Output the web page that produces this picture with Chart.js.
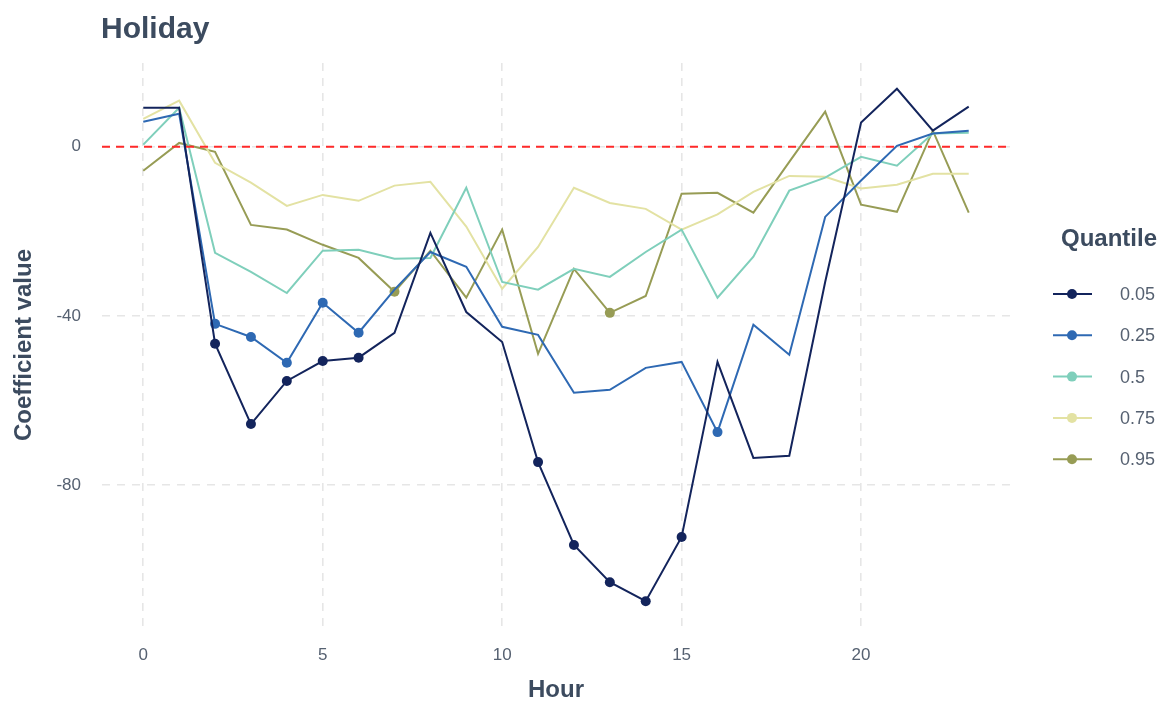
<!DOCTYPE html>
<html>
<head>
<meta charset="utf-8">
<script src="https://cdn.jsdelivr.net/npm/chart.js@4.4.0/dist/chart.umd.min.js"></script>
<style>
  html, body { margin: 0; padding: 0; background: #ffffff; }
  #wrap { width: 1166px; height: 702px; }
</style>
</head>
<body>
<div id="wrap"><canvas id="chart" width="1166" height="702"></canvas></div>
<script>
// Hour of day
const hours = [0,1,2,3,4,5,6,7,8,9,10,11,12,13,14,15,16,17,18,19,20,21,22,23];

// Holiday coefficient estimates per quantile
const q05 = [9.2, 9.2, -46.6, -65.6, -55.4, -50.7, -49.9, -44.0, -20.4, -39.1, -46.2, -74.6, -94.2, -103.0, -107.5, -92.3, -50.9, -73.6, -73.1, -32.0, 5.7, 13.7, 3.8, 9.5];
const q25 = [5.9, 7.8, -41.9, -45.0, -51.1, -36.9, -44.0, -33.8, -24.9, -28.4, -42.6, -44.5, -58.2, -57.5, -52.3, -50.9, -67.5, -42.1, -49.2, -16.6, -8.0, 0.2, 3.1, 3.8];
const q50 = [0.5, 9.2, -25.1, -29.6, -34.6, -24.6, -24.4, -26.5, -26.3, -9.7, -32.0, -33.8, -28.9, -30.8, -24.9, -19.6, -35.7, -26.0, -10.4, -7.3, -2.4, -4.5, 3.1, 3.3];
const q75 = [6.6, 10.9, -3.8, -8.5, -14.0, -11.4, -12.8, -9.2, -8.3, -18.9, -33.6, -23.7, -9.7, -13.3, -14.7, -19.6, -16.0, -10.7, -6.9, -7.1, -9.9, -9.0, -6.4, -6.4];
const q95 = [-5.7, 0.9, -1.2, -18.5, -19.6, -23.2, -26.3, -34.3, -24.6, -35.7, -19.6, -49.0, -28.9, -39.3, -35.3, -11.1, -10.9, -15.6, -3.6, 8.3, -13.7, -15.4, 3.8, -15.6];

// Significant hours (marked with a point)
const sig05 = [2, 3, 4, 5, 6, 11, 12, 13, 14, 15];
const sig25 = [2, 3, 4, 5, 6, 16];
const sig50 = [];
const sig75 = [];
const sig95 = [7, 13];

const quantileLabels = ['0.05', '0.25', '0.5', '0.75', '0.95'];
const xTicks = [0, 5, 10, 15, 20];
const yTicks = [0, -40, -80];

const colors = ['#13245c', '#2e69b3', '#7fcfbb', '#e3e2a3', '#979c55'];
const seriesValues = [q05, q25, q50, q75, q95];
const seriesSig = [sig05, sig25, sig50, sig75, sig95];

const FONT = "'Liberation Sans', Arial, Helvetica, sans-serif";
const TEXT_DARK = '#3c4b5f';
const TEXT_MID = '#566171';

const datasets = seriesValues.map((vals, i) => ({
  label: quantileLabels[i],
  data: hours.map((h, k) => ({ x: h, y: vals[k] })),
  borderColor: colors[i],
  backgroundColor: colors[i],
  borderWidth: 2,
  pointRadius: hours.map(h => seriesSig[i].includes(h) ? 5 : 0),
  pointHoverRadius: 0,
  pointBorderWidth: 0,
  tension: 0,
  fill: false
}));

// Dashed zero reference line, plus the title and the quantile legend
const overlay = {
  id: 'overlay',
  afterDatasetsDraw(chart) {
    const ctx = chart.ctx;
    const area = chart.chartArea;
    const y0 = chart.scales.y.getPixelForValue(0);
    ctx.save();
    ctx.strokeStyle = '#ff2a2a';
    ctx.lineWidth = 2;
    ctx.setLineDash([8, 6]);
    ctx.beginPath();
    ctx.moveTo(area.left, y0);
    ctx.lineTo(area.right, y0);
    ctx.stroke();
    ctx.restore();
  },
  afterDraw(chart) {
    const ctx = chart.ctx;
    ctx.save();
    // Title
    ctx.fillStyle = TEXT_DARK;
    ctx.font = `bold 30px ${FONT}`;
    ctx.textAlign = 'left';
    ctx.textBaseline = 'alphabetic';
    ctx.fillText('Holiday', 101, 38);

    // Legend
    ctx.textBaseline = 'middle';
    ctx.font = `bold 24px ${FONT}`;
    ctx.fillText('Quantile', 1061, 239);
    const startY = 294, step = 41.3;
    chart.data.datasets.forEach((ds, i) => {
      const y = startY + i * step;
      ctx.strokeStyle = ds.borderColor;
      ctx.lineWidth = 2;
      ctx.setLineDash([]);
      ctx.beginPath();
      ctx.moveTo(1053, y);
      ctx.lineTo(1092, y);
      ctx.stroke();
      ctx.fillStyle = ds.borderColor;
      ctx.beginPath();
      ctx.arc(1072, y, 5, 0, Math.PI * 2);
      ctx.fill();
      ctx.fillStyle = TEXT_MID;
      ctx.font = `18px ${FONT}`;
      ctx.fillText(ds.label, 1120, y + 1);
    });
    ctx.restore();
  }
};

new Chart(document.getElementById('chart'), {
  type: 'line',
  data: { datasets },
  plugins: [overlay],
  options: {
    responsive: false,
    animation: false,
    events: [],
    layout: { padding: { top: 63, right: 156, left: 0, bottom: 0 } },
    plugins: {
      legend: { display: false },
      tooltip: { enabled: false },
      title: { display: false }
    },
    scales: {
      x: {
        type: 'linear',
        min: -1.15,
        max: 24.15,
        afterBuildTicks(scale) { scale.ticks = xTicks.map(v => ({ value: v })); },
        afterFit(scale) { scale.height = 75; },
        grid: { color: '#e6e6e6', lineWidth: 1.6, drawTicks: false },
        border: { display: false, dash: [8, 7] },
        ticks: {
          padding: 18,
          color: TEXT_MID,
          font: { family: FONT, size: 17 },
          maxRotation: 0,
          callback: v => String(v)
        },
        title: {
          display: true,
          text: 'Hour',
          color: TEXT_DARK,
          font: { family: FONT, size: 24, weight: 'bold', lineHeight: 1 },
          padding: { top: 0, bottom: 0 }
        }
      },
      y: {
        type: 'linear',
        min: -113.6,
        max: 19.8,
        afterBuildTicks(scale) { scale.ticks = yTicks.map(v => ({ value: v })); },
        afterFit(scale) { scale.width = 102; },
        grid: { color: '#e6e6e6', lineWidth: 1.6, drawTicks: false },
        border: { display: false, dash: [8, 7] },
        ticks: {
          padding: 21,
          color: TEXT_MID,
          font: { family: FONT, size: 17 },
          callback: v => String(v)
        },
        title: {
          display: true,
          text: 'Coefficient value',
          color: TEXT_DARK,
          font: { family: FONT, size: 24, weight: 'bold', lineHeight: 1 },
          padding: { top: 12, bottom: 0 }
        }
      }
    }
  }
});
</script>
</body>
</html>
